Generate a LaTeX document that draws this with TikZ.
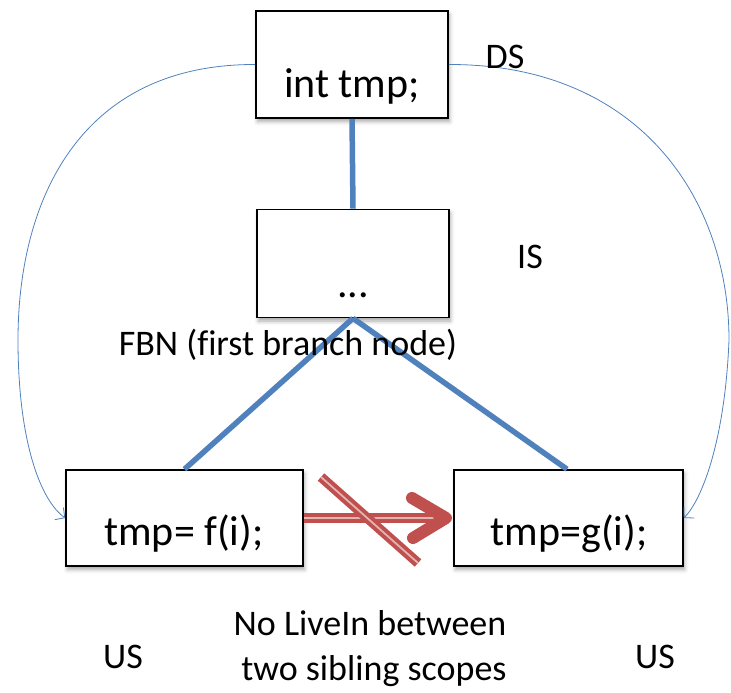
\documentclass[tikz,border=0pt]{standalone}
\usepackage{fontspec}
\setmainfont{Carlito}[Ligatures=NoCommon]
\usetikzlibrary{arrows.meta,shadows.blur}
\definecolor{scopeblue}{HTML}{4F81BD}
\definecolor{crossred}{HTML}{C0504D}
\definecolor{stripe}{HTML}{E2B4B3}
\tikzset{
  scopebox/.style={draw=black, line width=1.6pt, fill=white, inner sep=0pt,
    blur shadow={shadow xshift=1.5pt, shadow yshift=-3.5pt, shadow blur radius=4pt, shadow opacity=35}},
  boxtext/.style={anchor=base, inner sep=0pt, font=\fontsize{42}{48}\selectfont},
  lbl/.style={anchor=base, inner sep=0pt, font=\fontsize{36}{42}\selectfont},
  treeedge/.style={draw=scopeblue, line width=5.5pt},
  scopecurve/.style={draw=scopeblue, line width=0.8pt, -{Straight Barb[length=7pt,width=15pt,line width=0.8pt]}},
  redline/.style={draw=crossred, line width=4pt, double=stripe, double distance=1.8pt}
}
\begin{document}
\begin{tikzpicture}[x=1pt,y=-1pt]
\useasboundingbox (0,0) rectangle (731,693);

% scope boxes
\node[scopebox, minimum width=192pt, minimum height=107pt] (top) at (352,64.5) {};
\node[scopebox, minimum width=192pt, minimum height=108pt] (mid) at (353,263.5) {};
\node[scopebox, minimum width=237pt, minimum height=96pt] (left) at (184.5,518) {};
\node[scopebox, minimum width=229pt, minimum height=96pt] (right) at (568.5,518) {};

% box contents
\node[boxtext] (ttop) at (352,98) {int tmp;};
\node[boxtext] (tmid) at (353,297) {...};
\node[boxtext] (tleft) at (184,545) {tmp= f(i);};
\node[boxtext] (tright) at (569,545) {tmp=g(i);};

% tree edges
\draw[treeedge] (top.south) -- (mid.north);
\draw[treeedge] (mid.south) -- (left.north);
\draw[treeedge] (mid.south) -- ([xshift=-1.5pt]right.north);

% scope curves from the declaring scope to the use scopes
\coordinate (lbend) at (18,340);
\coordinate (rbend) at (729,340);
\draw[scopecurve] (top.west) .. controls (80,64) and (18,200) .. (lbend)
  .. controls (18,440) and (40,500) .. (left.west);
\draw[scopecurve] (top.east) .. controls (640,64) and (729,200) .. (rbend)
  .. controls (725,440) and (702,500) .. (right.east);

% crossed-out LiveIn arrow
\coordinate (tip) at (446,518);
\draw[redline] (left.east) -- ([xshift=-4pt]tip);
\draw[draw=crossred, line width=12pt, line cap=round, line join=round]
  (412,498) -- (tip) -- (413,538);
\coordinate (slashA) at (321,477);
\coordinate (slashB) at (418,563);
\draw[redline] (slashA) -- (slashB);

% labels
\node[lbl] (ds) at (505,69) {DS};
\node[lbl] (is) at (530,268) {IS};
\node[lbl] (fbn) at (288,355) {FBN (first branch node)};
\node[lbl] (note1) at (370,635) {No LiveIn between};
\node[lbl] (note2) at (374,680) {two sibling scopes};
\node[lbl] (usl) at (123,668) {US};
\node[lbl] (usr) at (655,668) {US};
\end{tikzpicture}
\end{document}
